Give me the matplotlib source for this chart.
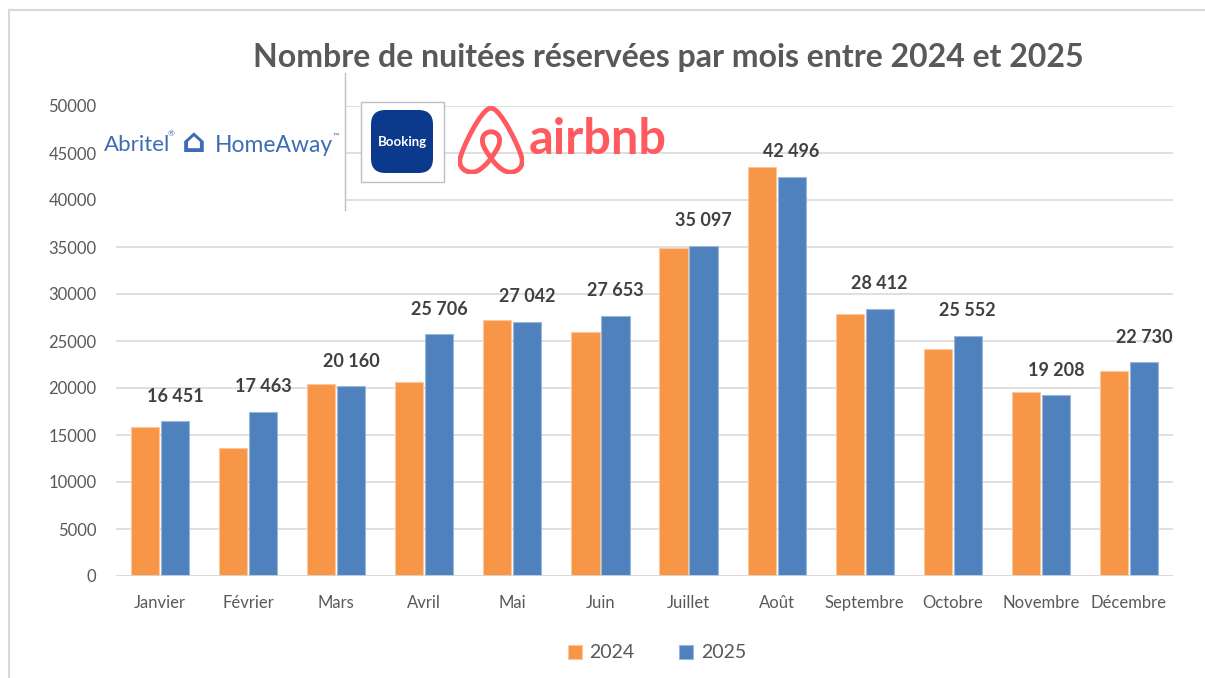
import numpy as np
import matplotlib
matplotlib.use('Agg')
import matplotlib.pyplot as plt
from matplotlib.patches import Rectangle, FancyBboxPatch, PathPatch
from matplotlib.path import Path
from matplotlib.lines import Line2D

# Données
mois = ['Janvier', 'Février', 'Mars', 'Avril', 'Mai', 'Juin', 'Juillet',
        'Août', 'Septembre', 'Octobre', 'Novembre', 'Décembre']
nuitees_2024 = [15880, 13590, 20390, 20610, 27200, 25960, 34890,
                43540, 27840, 24110, 19570, 21840]
nuitees_2025 = [16451, 17463, 20160, 25706, 27042, 27653, 35097,
                42496, 28412, 25552, 19208, 22730]
annees = ['2024', '2025']

orange = '#F79646'
bleu = '#4F81BD'
gris = '#595959'

W, H = 1205, 678
fig = plt.figure(figsize=(W / 100, H / 100), dpi=100)
plt.rcParams['font.family'] = ['Lato', 'DejaVu Sans']

def fx(px):
    return px / W

def fy(py):
    return 1 - py / H

ax = fig.add_axes([fx(116), fy(576), fx(1173) - fx(116), fy(106) - fy(576)])

x = np.arange(len(mois))
largeur = 0.32
ax.bar(x - largeur / 2 - 0.01, nuitees_2024, largeur, color=orange,
       edgecolor='#FBC79E', linewidth=0.8, label=annees[0], zorder=3)
ax.bar(x + largeur / 2 + 0.01, nuitees_2025, largeur, color=bleu,
       edgecolor='#9DB7DA', linewidth=0.8, label=annees[1], zorder=3)

# Étiquettes de données (2025 seulement)
for xi, v in zip(x, nuitees_2025):
    txt = f'{v:,}'.replace(',', ' ')
    ax.annotate(txt, (xi + largeur / 2 + 0.01, v), xytext=(0, 12),
                textcoords='offset points', ha='center', va='bottom',
                fontsize=13, fontweight='bold', color='#404040', zorder=5)

ax.set_xlim(-0.5, len(mois) - 0.5)
ax.set_ylim(0, 50000)
ax.set_yticks(np.arange(0, 50001, 5000))
ax.set_xticks(x)
ax.set_xticklabels(mois)
ax.tick_params(axis='both', length=0, labelsize=12, colors=gris)
ax.tick_params(axis='y', pad=14)
ax.tick_params(axis='x', pad=14)
ax.grid(axis='y', color='#D9D9D9', linewidth=1.2, zorder=0)
for s in ax.spines.values():
    s.set_visible(False)
ax.axhline(0, color='#D9D9D9', linewidth=1.2, zorder=4)

# Titre
fig.text(fx(668), fy(57), 'Nombre de nuitées réservées par mois entre 2024 et 2025',
         ha='center', va='center', fontsize=23, fontweight='bold', color=gris)

# Légende
leg = fig.legend(loc='center', bbox_to_anchor=(fx(657), fy(653)), ncol=2,
                 frameon=False, fontsize=14, handlelength=0.7, handleheight=0.7,
                 columnspacing=2.3, handletextpad=0.4)
for t in leg.get_texts():
    t.set_color(gris)

# Cadre extérieur
fig.add_artist(Line2D([fx(9), fx(1205)], [fy(10), fy(10)], color='#D9D9D9', lw=1.5))
fig.add_artist(Line2D([fx(9), fx(9)], [fy(10), fy(678)], color='#D9D9D9', lw=1.5))

# Logos (zone blanche à gauche)
abritel = '#3D6DB5'
fig.add_artist(Rectangle((fx(110), fy(212)), fx(345) - fx(110), fy(72) - fy(212),
                         facecolor='white', edgecolor='none', zorder=6))
fig.add_artist(Line2D([fx(345), fx(345)], [fy(73), fy(210)], color='#BFBFBF', lw=1, zorder=7))
fig.text(fx(104), fy(145), 'Abritel', ha='left', va='center', fontsize=16,
         color=abritel, zorder=8)
fig.text(fx(168), fy(134), '®', ha='left', va='center', fontsize=6,
         color=abritel, zorder=8)
fig.text(fx(194), fy(142), '⌂', ha='center', va='center', fontsize=24,
         fontweight='bold', color=abritel, zorder=8, family='DejaVu Sans')
fig.text(fx(215), fy(145), 'HomeAway', ha='left', va='center', fontsize=16.5,
         color=abritel, zorder=8)
fig.text(fx(333), fy(136), '™', ha='left', va='center', fontsize=6,
         color=abritel, zorder=8)

# Booking
fig.add_artist(Rectangle((fx(361), fy(182)), fx(444) - fx(361), fy(102) - fy(182),
                         facecolor='white', edgecolor='#BFBFBF', lw=1, zorder=6))
fig.add_artist(FancyBboxPatch((fx(371), fy(173)), fx(433) - fx(371), fy(110) - fy(173),
                              boxstyle='round,pad=0,rounding_size=0.012',
                              facecolor='#0B3A8C', edgecolor='none', zorder=7,
                              mutation_aspect=W / H))
fig.text(fx(402), fy(142), 'Booking', ha='center', va='center', fontsize=9.5,
         fontweight='bold', color='white', zorder=8)

# airbnb
lax = fig.add_axes([fx(458), fy(174), fx(524) - fx(458), fy(106) - fy(174)], zorder=8)
lax.set_xlim(0, 1)
lax.set_ylim(0, 1)
lax.axis('off')
verts = [(0.5, 0.97),
         (0.35, 0.97), (0.05, 0.35), (0.03, 0.22),
         (0.0, 0.05), (0.2, -0.02), (0.32, 0.06),
         (0.42, 0.12), (0.5, 0.22), (0.58, 0.35),
         (0.68, 0.5), (0.62, 0.62), (0.5, 0.62),
         (0.38, 0.62), (0.32, 0.5), (0.42, 0.35),
         (0.5, 0.22), (0.58, 0.12), (0.68, 0.06),
         (0.8, -0.02), (1.0, 0.05), (0.97, 0.22),
         (0.95, 0.35), (0.65, 0.97), (0.5, 0.97)]
codes = [Path.MOVETO] + [Path.CURVE4] * 24
lax.add_patch(PathPatch(Path(verts, codes), facecolor='none', edgecolor='#FF5A5F', lw=3.5))
fig.text(fx(529), fy(139), 'airbnb', ha='left', va='center', fontsize=35,
         fontweight='bold', color='#FF5A5F', zorder=8)

fig.savefig('out.png', dpi=100, facecolor='white')
